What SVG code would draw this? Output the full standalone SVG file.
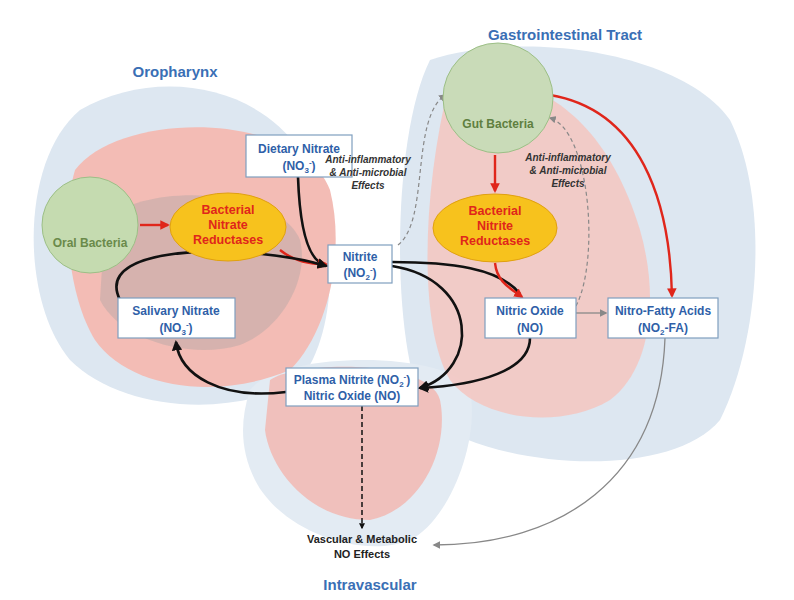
<svg xmlns="http://www.w3.org/2000/svg" width="794" height="600" viewBox="0 0 794 600">
<defs>
<style>
.box{fill:#fff;stroke:#7f9fbf;stroke-width:1.2}
.bt{font-family:"Liberation Sans",Arial,sans-serif;font-weight:bold;font-size:12px;fill:#2f5fa8;text-anchor:middle}
.rt{font-family:"Liberation Sans",Arial,sans-serif;font-weight:bold;font-size:12.5px;fill:#e0261b;text-anchor:middle}
.it{font-family:"Liberation Sans",Arial,sans-serif;font-weight:bold;font-style:italic;font-size:10px;fill:#333;text-anchor:middle}
.tt{font-family:"Liberation Sans",Arial,sans-serif;font-weight:bold;font-size:15px;fill:#3a6fb5;text-anchor:middle}
.k{fill:none;stroke:#111;stroke-width:2.6}
.r{fill:none;stroke:#e0261b;stroke-width:2.4}
.g{fill:none;stroke:#888;stroke-width:1.3}
.d{fill:none;stroke:#888;stroke-width:1.2;stroke-dasharray:4 3}
.ell{fill:#f7c21d;stroke:#e0a010;stroke-width:1}
</style>
<marker id="ak" viewBox="0 0 10 10" refX="8" refY="5" markerWidth="4" markerHeight="4" orient="auto"><path d="M0,0L10,5L0,10z" fill="#111"/></marker>
<marker id="ar" viewBox="0 0 10 10" refX="8" refY="5" markerWidth="4" markerHeight="4" orient="auto"><path d="M0,0L10,5L0,10z" fill="#e0261b"/></marker>
<marker id="ag" viewBox="0 0 10 10" refX="8" refY="5" markerWidth="6" markerHeight="6" orient="auto"><path d="M0,0L10,5L0,10z" fill="#888"/></marker>
</defs>
<rect width="794" height="600" fill="#fff"/>
<g id="background">
<path d="M80,110 C150,70 250,80 300,150 C340,220 340,330 300,380 C230,420 120,410 70,360 C20,300 20,160 80,110z" fill="#dde7f1"/>
<path d="M430,60 C520,30 680,50 730,120 C770,200 760,340 720,420 C670,480 500,470 430,420 C390,360 390,140 430,60z" fill="#dde7f1"/>
<path d="M250,390 C280,350 450,350 470,390 C480,440 450,520 410,540 C360,560 280,530 255,480 C240,450 240,420 250,390z" fill="#e3ebf3"/>
<path d="M75,170 C120,110 300,110 330,190 C345,250 330,330 290,370 C220,400 130,390 95,340 C70,300 60,220 75,170z" fill="#f3bcb5"/>
<path d="M105,220 C150,180 280,190 300,240 C310,280 280,330 240,345 C190,360 120,340 100,300z" fill="#a0a0a0" opacity="0.35"/>
<path d="M450,80 C520,70 600,100 640,230 C660,300 650,370 610,400 C560,430 480,420 450,380 C420,330 420,200 450,80z" fill="#f5c6c0" opacity="0.85"/>
<path d="M270,380 C300,360 430,360 440,400 C450,450 420,510 370,520 C310,520 270,470 265,430z" fill="#f2b5ae" opacity="0.8"/>
</g>
<text class="tt" x="175" y="77">Oropharynx</text>
<text class="tt" x="565" y="40">Gastrointestinal Tract</text>
<text class="tt" x="370" y="590">Intravascular</text>
<g id="connectors">
<path class="k" d="M298,177 C300,235 310,262 326,265" marker-end="url(#ak)"/>
<path class="r" d="M280,250 C295,262 310,264 326,264" marker-end="url(#ar)"/>
<path class="k" d="M392,262 C450,262 500,268 520,294"/>
<path class="k" d="M392,266 C480,280 480,370 420,388" marker-end="url(#ak)"/>
<path class="r" d="M495,263 C497,282 510,288 522,297" marker-end="url(#ar)"/>
<path class="k" d="M530,338 C530,370 480,385 420,388" marker-end="url(#ak)"/>
<path class="k" d="M286,392 C220,400 180,375 176,342" marker-end="url(#ak)"/>
<path class="k" d="M120,300 C90,240 260,245 326,266" marker-end="url(#ak)"/>
<path class="g" d="M576,313 L606,313" marker-end="url(#ag)"/>
<path class="r" d="M550,95 C640,110 670,200 672,296" marker-end="url(#ar)"/>
<path class="r" d="M495,155 L495,191" marker-end="url(#ar)"/>
<path class="d" d="M398,245 C430,220 410,120 445,95" marker-end="url(#ag)"/>
<path class="d" d="M576,306 C600,260 590,130 550,118" marker-end="url(#ag)"/>
<path d="M362,406 L362,528" fill="none" stroke="#111" stroke-width="1.5" stroke-dasharray="5 3" marker-end="url(#ak)"/>
<path class="g" d="M665,338 C660,480 560,545 434,545" marker-end="url(#ag)"/>
</g>
<g id="oral-bacteria">
<circle cx="90" cy="225" r="48" fill="#c5dbb0" stroke="#9cbf86"/>
<text x="90" y="247" font-family="Liberation Sans,Arial,sans-serif" font-size="12" font-weight="bold" fill="#6a8a4a" text-anchor="middle">Oral Bacteria</text>
</g>
<path d="M140,225 L168,225" class="r" marker-end="url(#ar)"/>
<g id="nitrate-reductases">
<ellipse class="ell" cx="228" cy="227" rx="58" ry="34"/>
<text class="rt" x="228" y="214">Bacterial</text><text class="rt" x="228" y="229">Nitrate</text><text class="rt" x="228" y="244">Reductases</text>
</g>
<g id="dietary-nitrate"><rect class="box" x="246" y="135" width="106" height="42"/>
<text class="bt" x="299" y="153">Dietary Nitrate</text><text class="bt" x="299" y="170">(NO<tspan font-size="8" dy="3">3</tspan><tspan font-size="8" dy="-8">-</tspan><tspan dy="5">)</tspan></text></g>
<g id="nitrite"><rect class="box" x="328" y="245" width="64" height="38"/>
<text class="bt" x="360" y="261">Nitrite</text><text class="bt" x="360" y="277">(NO<tspan font-size="8" dy="3">2</tspan><tspan font-size="8" dy="-8">-</tspan><tspan dy="5">)</tspan></text></g>
<g id="gut-bacteria"><circle cx="498" cy="98" r="55" fill="#c9dbb8" stroke="#9cbf86"/>
<text x="498" y="128" font-family="Liberation Sans,Arial,sans-serif" font-size="12" font-weight="bold" fill="#5f7f40" text-anchor="middle">Gut Bacteria</text></g>
<g id="nitrite-reductases"><ellipse class="ell" cx="495" cy="228" rx="62" ry="34"/>
<text class="rt" x="495" y="215">Bacterial</text><text class="rt" x="495" y="230">Nitrite</text><text class="rt" x="495" y="245">Reductases</text></g>
<g id="nitric-oxide"><rect class="box" x="485" y="298" width="91" height="40"/>
<text class="bt" x="530" y="315">Nitric Oxide</text><text class="bt" x="530" y="332">(NO)</text></g>
<g id="nitro-fatty"><rect class="box" x="608" y="298" width="110" height="40"/>
<text class="bt" x="663" y="315">Nitro-Fatty Acids</text><text class="bt" x="663" y="332">(NO<tspan font-size="8" dy="3">2</tspan><tspan dy="-3">-FA)</tspan></text></g>
<g id="salivary"><rect class="box" x="118" y="298" width="117" height="40"/>
<text class="bt" x="176" y="315">Salivary Nitrate</text><text class="bt" x="176" y="332">(NO<tspan font-size="8" dy="3">3</tspan><tspan font-size="8" dy="-8">-</tspan><tspan dy="5">)</tspan></text></g>
<g id="plasma"><rect class="box" x="286" y="368" width="132" height="38"/>
<text class="bt" x="352" y="384">Plasma Nitrite (NO<tspan font-size="8" dy="3">2</tspan><tspan font-size="8" dy="-8">-</tspan><tspan dy="5">)</tspan></text><text class="bt" x="352" y="400">Nitric Oxide (NO)</text></g>
<g id="vascular"><text x="362" y="543" font-family="Liberation Sans,Arial,sans-serif" font-size="11" font-weight="bold" fill="#222" text-anchor="middle">Vascular &amp; Metabolic</text>
<text x="362" y="558" font-family="Liberation Sans,Arial,sans-serif" font-size="11" font-weight="bold" fill="#222" text-anchor="middle">NO Effects</text></g>
<g id="effects-labels">
<text class="it" x="368" y="163">Anti-inflammatory</text><text class="it" x="368" y="176">&amp; Anti-microbial</text><text class="it" x="368" y="189">Effects</text>
<text class="it" x="568" y="161">Anti-inflammatory</text><text class="it" x="568" y="174">&amp; Anti-microbial</text><text class="it" x="568" y="187">Effects</text>
</g>
</svg>
